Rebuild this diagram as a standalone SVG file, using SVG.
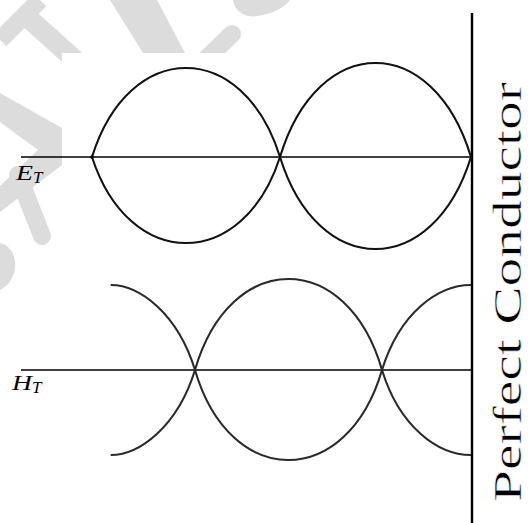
<svg xmlns="http://www.w3.org/2000/svg" width="532" height="523" viewBox="0 0 532 523">
  <defs>
    <clipPath id="wmclip">
      <path d="M0,0 H532 V53 H62 V523 H0 Z"/>
    </clipPath>
    <style>
      .wm { fill: #dcdcdc; stroke: none; }
      .wms { fill: none; stroke: #dcdcdc; }
      .axis { stroke: #000; stroke-width: 1.4; fill: none; }
      .wave { stroke: #111; stroke-width: 2.1; fill: none; }
      .waveh { stroke: #2a2a2a; stroke-width: 2.1; fill: none; }
      .lbl { font-family: "Liberation Serif", "Times New Roman", serif; font-style: italic; fill: #000; }
      .cond { font-family: "Liberation Serif", "Times New Roman", serif; fill: #000; stroke: #fff; stroke-width: 0.5; }
    </style>
  </defs>
  <rect width="532" height="523" fill="#fff"/>

  <g id="watermark" clip-path="url(#wmclip)">
    <line class="wms" x1="0" y1="40" x2="40" y2="0" stroke-width="18"/>
    <line class="wms" x1="25" y1="15" x2="75" y2="60" stroke-width="20"/>
    <polygon class="wm" points="110,0 157,0 185,53 143,53"/>
    <line class="wms" x1="205" y1="60" x2="232" y2="34" stroke-width="18" stroke-linecap="round"/>
    <path class="wm" d="M233,0 C235,12 245,18 258,16 C272,14 284,8 290,0 Z"/>
    <path class="wm" d="M0,93 L62,128 L62,165 L0,212 L0,186 L38,150 L0,122 Z"/>
    <line class="wms" x1="18" y1="175" x2="42" y2="236" stroke-width="18" stroke-linecap="round"/>
    <path class="wm" d="M0,243 C10,245 16,255 15,268 C14,278 8,286 0,290 Z"/>
  </g>

  <g id="conductor">
    <line x1="472" y1="13" x2="472" y2="523" stroke="#000" stroke-width="2.4"/>
    <text class="cond" transform="translate(521,502) rotate(-90)" font-size="40" textLength="420" lengthAdjust="spacingAndGlyphs">Perfect Conductor</text>
  </g>

  <g id="e-field">
    <line class="axis" x1="21" y1="157" x2="472" y2="157"/>
    <path class="wave" d="M92,157 C129,38.3 243,38.3 280,157 C318,31.7 433,31.7 471,157"/>
    <path class="wave" d="M92,157 C129,271.7 243,271.7 280,157 C318,279.7 433,279.7 471,157"/>
    <circle cx="92" cy="157" r="1.8" fill="#000"/>
    <text class="lbl" x="16" y="180" font-size="22" textLength="17" lengthAdjust="spacingAndGlyphs">E</text>
    <text class="lbl" x="33" y="183" font-size="17">T</text>
  </g>

  <g id="h-field">
    <line class="axis" x1="21" y1="370" x2="472" y2="370"/>
    <path class="waveh" d="M110.7,285 C139.5,285 177.5,313.3 195,370 C230,490 347,490 382,370 C399.5,426.7 437.5,455 471,455"/>
    <path class="waveh" d="M110.7,455 C139.5,455 177.5,426.7 195,370 C230,248.7 347,248.7 382,370 C399.5,313.3 437.5,285 471,285"/>
    <text class="lbl" x="12" y="390" font-size="22" textLength="20" lengthAdjust="spacingAndGlyphs">H</text>
    <text class="lbl" x="32" y="393" font-size="17">T</text>
  </g>
</svg>
